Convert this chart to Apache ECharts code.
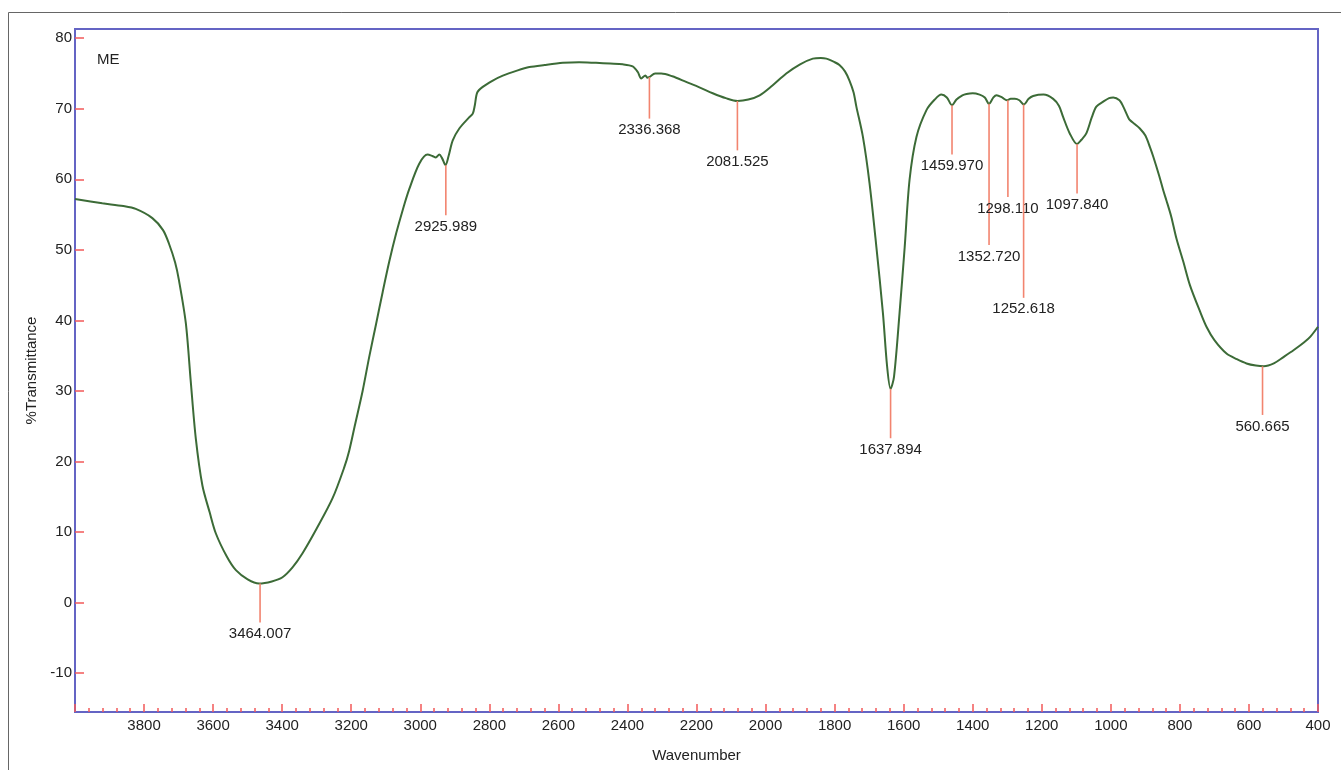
<!DOCTYPE html>
<html>
<head>
<meta charset="utf-8">
<script src="https://cdn.jsdelivr.net/npm/echarts@6/dist/echarts.min.js"></script>
<style>
html,body{margin:0;padding:0;background:#fff;}
#chart{width:1341px;height:770px;}
</style>
</head>
<body>
<div id="chart"></div>
<script>
// Wavenumber (cm-1) values of the traced spectrum
const wavenumbers = [4000,3921,3860,3824,3776,3745,3728,3710,3699,3679,3665,3650,3631,3610,3592,3560,3534,3500,3467,3430,3399,3370,3341,3300,3254,3220,3206,3190,3167,3148,3128,3109,3090,3070,3050,3032,3003,2979,2965,2955,2945,2937,2927,2918,2906,2887,2858,2848,2842,2835,2819,2790,2761,2720,2684,2640,2587,2540,2491,2450,2414,2385,2370,2360,2348,2342,2336,2320,2302,2270,2230,2190,2153,2115,2081,2050,2017,1980,1940,1900,1863,1840,1824,1800,1786,1770,1757,1745,1737,1718,1699,1679,1660,1648,1638,1628,1612,1597,1583,1563,1534,1510,1491,1475,1460,1447,1430,1418,1400,1380,1365,1353,1340,1331,1315,1301,1290,1278,1265,1252,1238,1225,1195,1167,1150,1138,1119,1098,1085,1071,1055,1042,1022,1005,993,975,964,950,945,930,916,900,887,877,860,848,839,825,810,790,771,742,723,700,665,635,607,580,557,528,500,470,440,422,400];
// % Transmittance values
const transmittance = [57.2,56.6,56.2,55.8,54.5,52.8,50.9,48.2,45.7,39.6,31.5,23.2,16.6,12.8,9.8,6.5,4.6,3.3,2.7,3.0,3.6,5.0,7.0,10.5,14.8,19.2,21.5,25.0,30.0,34.8,39.5,44.0,48.3,52.3,55.8,58.6,62.2,63.5,63.3,63.1,63.5,63.0,62.0,63.3,65.5,67.2,68.8,69.3,70.5,72.3,73.1,74.0,74.7,75.4,75.9,76.2,76.5,76.6,76.5,76.4,76.3,76.0,75.2,74.3,74.7,74.4,74.5,75.0,75.0,74.6,73.8,73.0,72.2,71.5,71.1,71.3,71.9,73.3,75.0,76.3,77.1,77.2,77.1,76.6,76.2,75.3,74.0,72.3,70.3,66.0,59.5,50.4,41.0,33.5,30.3,32.0,41.0,50.4,59.9,66.0,69.8,71.3,72.0,71.6,70.5,71.3,71.9,72.1,72.2,72.0,71.6,70.7,71.6,71.9,71.6,71.2,71.4,71.4,71.2,70.6,71.4,71.8,72.0,71.4,70.4,68.8,66.5,65.0,65.6,66.5,68.8,70.3,71.0,71.5,71.6,71.2,70.3,68.8,68.4,67.8,67.2,66.2,64.6,63.2,60.5,58.4,57.0,54.7,51.6,48.3,45.0,41.3,39.1,37.2,35.3,34.5,33.9,33.6,33.5,33.9,34.8,35.8,36.9,37.7,39.1];

// Peak annotations
const peakWavenumbers = [3464.007,2925.989,2336.368,2081.525,1637.894,1459.970,1352.720,1298.110,1252.618,1097.840,560.665];
const peakLabels = ['3464.007','2925.989','2336.368','2081.525','1637.894','1459.970','1352.720','1298.110','1252.618','1097.840','560.665'];
const peakTop = [2.7,62.0,74.5,71.1,30.3,70.5,70.7,71.2,70.6,65.0,33.5];
const peakEnd = [-2.8,54.9,68.6,64.1,23.3,63.5,50.7,57.5,43.2,58.0,26.6];

// Axis tick labels
const yTickValues = [-10,0,10,20,30,40,50,60,70,80];

const spectrum = wavenumbers.map((w,i)=>[w, transmittance[i]]);
const peaks = peakWavenumbers.map((w,i)=>[w, peakTop[i], peakEnd[i]]);

const chart = echarts.init(document.getElementById('chart'));
const frameColor = '#6464c4';
const tickColor = '#f25a5a';
const textColor = '#222';
const font = '"Liberation Sans", Arial, sans-serif';

chart.setOption({
  animation: false,
  backgroundColor: '#fff',
  title: {
    text: 'ME', left: 92, top: 47,
    textStyle: {fontSize: 15, fontWeight: 'normal', color: textColor, fontFamily: font}
  },
  graphic: [{
    type: 'rect', shape: {x: 8.5, y: 12.5, width: 1400, height: 800},
    style: {fill: 'none', stroke: '#666', lineWidth: 1}, silent: true, z: -10
  }],
  grid: {
    left: 75, right: 23, top: 29, bottom: 58,
    show: true, borderColor: frameColor, borderWidth: 2, backgroundColor: 'transparent'
  },
  xAxis: {
    type: 'value', inverse: true, min: 400, max: 4000, interval: 200,
    name: 'Wavenumber', nameLocation: 'middle', nameGap: 36,
    nameTextStyle: {fontSize: 15, color: textColor, fontFamily: font},
    axisLine: {show: true, onZero: false, lineStyle: {color: frameColor, width: 2}},
    axisTick: {show: true, inside: true, length: 8, lineStyle: {color: tickColor, width: 1.5}},
    minorTick: {show: true, splitNumber: 5, length: 4, lineStyle: {color: tickColor, width: 1.5}},
    axisLabel: {
      margin: 6, fontSize: 15, color: textColor, fontFamily: font,
      formatter: v => v === 4000 ? '' : String(v)
    },
    splitLine: {show: false}
  },
  yAxis: {
    type: 'value', min: -15.5, max: 81.3,
    name: '%Transmittance', nameLocation: 'middle', nameGap: 35, nameRotate: 90,
    nameTextStyle: {fontSize: 15, color: textColor, fontFamily: font},
    axisLine: {show: true, onZero: false, lineStyle: {color: frameColor, width: 2}},
    axisTick: {show: true, inside: true, length: 9, customValues: yTickValues, lineStyle: {color: tickColor, width: 1.5}},
    axisLabel: {margin: 3, fontSize: 15, color: textColor, fontFamily: font, customValues: yTickValues},
    splitLine: {show: false}
  },
  series: [
    {
      type: 'line', data: spectrum, showSymbol: false, smooth: 0.3,
      lineStyle: {color: '#3c6b37', width: 2}, z: 3
    },
    {
      type: 'custom', data: peaks, z: 4,
      renderItem: function (params, api) {
        const top = api.coord([api.value(0), api.value(1)]);
        const end = api.coord([api.value(0), api.value(2)]);
        return {
          type: 'group',
          children: [
            {type: 'line', shape: {x1: top[0], y1: top[1], x2: end[0], y2: end[1]},
             style: {stroke: '#f2846f', lineWidth: 1.6}},
            {type: 'text', x: end[0], y: end[1] + 4,
             style: {text: peakLabels[params.dataIndex], fill: textColor, font: '15px ' + font,
                     textAlign: 'center', textVerticalAlign: 'top'}}
          ]
        };
      }
    }
  ]
});
</script>
</body>
</html>
